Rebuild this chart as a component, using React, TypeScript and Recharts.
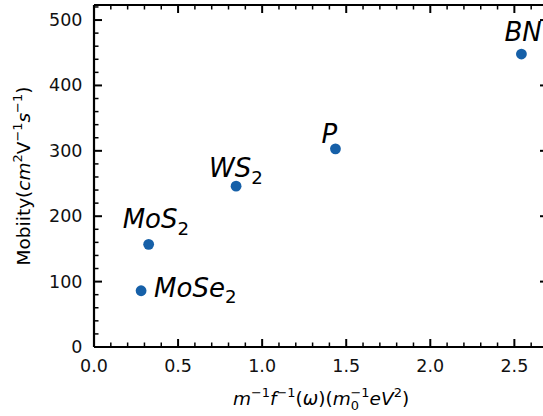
import React from 'react';
import { ScatterChart, Scatter, XAxis, YAxis, Label, ReferenceLine } from 'recharts';

// values
const materials = ['MoSe2', 'MoS2', 'WS2', 'P', 'BN'];
const xValues = [0.28, 0.325, 0.845, 1.436, 2.542];
const mobility = [86, 157, 246, 303, 448];

const X_MAJOR = [0, 0.5, 1.0, 1.5, 2.0, 2.5];
const X_MINOR = [0.1, 0.2, 0.3, 0.4, 0.6, 0.7, 0.8, 0.9, 1.1, 1.2, 1.3, 1.4, 1.6, 1.7, 1.8, 1.9, 2.1, 2.2, 2.3, 2.4, 2.6];
const Y_MAJOR = [0, 100, 200, 300, 400, 500];
const Y_MINOR = [20, 40, 60, 80, 120, 140, 160, 180, 220, 240, 260, 280, 320, 340, 360, 380, 420, 440, 460, 480, 520];

const X_DOMAIN = [0, 2.7];
const Y_DOMAIN = [0, 523];

const DOT = '#1660a8';
const FONT = 'DejaVu Sans, Verdana, sans-serif';
const THIN = 0.01; // axes take no room, margins hold the labels
const GAP = 2; // recharts' default tickMargin

// label text pieces: [text, italic, position, dx]
type Seg = [string, boolean, 'base' | 'sup' | 'sub', number?];

const LABEL_TEXT: Record<string, Seg[]> = {
  MoSe2: [['MoSe', true, 'base'], ['2', false, 'sub']],
  MoS2: [['MoS', true, 'base'], ['2', false, 'sub']],
  WS2: [['WS', true, 'base'], ['2', false, 'sub']],
  P: [['P', true, 'base']],
  BN: [['BN', true, 'base']],
};

// where the annotation sits relative to its point (text start, baseline)
const LABEL_OFFSET: Record<string, [number, number]> = {
  MoSe2: [13, 6],
  MoS2: [-26, -16],
  WS2: [-27, -9],
  P: [-14, -6],
  BN: [-17, -13],
};

const X_TITLE: Seg[] = [
  ['m', true, 'base'], ['−1', false, 'sup'], ['f', true, 'base'], ['−1', false, 'sup'],
  ['(', false, 'base'], ['ω', true, 'base'], [')(', false, 'base'], ['m', true, 'base'],
  ['0', false, 'sub'], ['−1', false, 'sup', -8.5], ['e', true, 'base'], ['V', true, 'base'],
  ['2', false, 'sup'], [')', false, 'base'],
];

const Y_TITLE: Seg[] = [
  ['Mobiity(', false, 'base'], ['cm', true, 'base'], ['2', false, 'sup'], ['V', false, 'base'],
  ['−1', false, 'sup'], ['s', true, 'base'], ['−1', false, 'sup'], [')', false, 'base'],
];

function renderSegs(segs: Seg[], size: number) {
  let cur = 0;
  return segs.map(([t, italic, pos, dx], i) => {
    const target = pos === 'sup' ? -0.42 * size : pos === 'sub' ? 0.25 * size : 0;
    const dy = target - cur;
    cur = target;
    return (
      <tspan
        key={i}
        dy={dy}
        dx={dx}
        fontSize={pos === 'base' ? size : size * 0.7}
        fontStyle={italic ? 'italic' : 'normal'}
      >
        {t}
      </tspan>
    );
  });
}

const points = materials.map((name, i) => ({ name, x: xValues[i], y: mobility[i] }));

const PointShape = (props: any) => {
  const { cx, cy, payload } = props;
  const [dx, dy] = LABEL_OFFSET[payload.name];
  return (
    <g>
      <circle cx={cx} cy={cy} r={5.4} fill={DOT} />
      <text x={cx + dx} y={cy + dy} fontFamily={FONT} fill="#000" textAnchor="start">
        {renderSegs(LABEL_TEXT[payload.name], 26)}
      </text>
    </g>
  );
};

const XTitle = (props: any) => {
  const { x, y, width } = props.viewBox;
  return (
    <text x={x + width / 2} y={y + 58} textAnchor="middle" fontFamily={FONT} fill="#000">
      {renderSegs(X_TITLE, 18.5)}
    </text>
  );
};

const YTitle = (props: any) => {
  const { x, y, height } = props.viewBox;
  const cx = x - 64;
  const cy = y + height / 2;
  return (
    <text x={cx} y={cy} textAnchor="middle" fontFamily={FONT} fill="#000" transform={`rotate(-90, ${cx}, ${cy})`}>
      {renderSegs(Y_TITLE, 18.5)}
    </text>
  );
};

// tick numbers only; the marks themselves come from the reference lines below
const BottomLabel = (props: any) => {
  const v = props.payload?.value;
  if (!X_MAJOR.includes(v)) return <g />;
  return (
    <text x={props.x} y={Number(props.y) - GAP + 25} textAnchor="middle" fontFamily={FONT} fontSize={17.5} fill="#111">
      {v.toFixed(1)}
    </text>
  );
};

const LeftLabel = (props: any) => {
  const v = props.payload?.value;
  if (!Y_MAJOR.includes(v)) return <g />;
  return (
    <text x={Number(props.x) + GAP - 11.5} y={Number(props.y) + 6} textAnchor="end" fontFamily={FONT} fontSize={17.5} fill="#111">
      {String(v)}
    </text>
  );
};

// inward ticks like matplotlib direction="in": only the two ends of each full-height line are drawn
const tickPair = (major: boolean, vertical: boolean) => (props: any) => {
  const len = major ? 8 : 4.5;
  const sw = major ? 2 : 1.5;
  const { x1, y1, x2, y2 } = props;
  if (vertical) {
    const top = Math.min(y1, y2);
    const bottom = Math.max(y1, y2);
    return (
      <g>
        <line x1={x1} x2={x1} y1={bottom} y2={bottom - len} stroke="#000" strokeWidth={sw} />
        <line x1={x1} x2={x1} y1={top} y2={top + len} stroke="#000" strokeWidth={sw} />
      </g>
    );
  }
  const left = Math.min(x1, x2);
  const right = Math.max(x1, x2);
  return (
    <g>
      <line x1={left} x2={left + len} y1={y1} y2={y1} stroke="#000" strokeWidth={sw} />
      <line x1={right} x2={right - len} y1={y1} y2={y1} stroke="#000" strokeWidth={sw} />
    </g>
  );
};

const XMajorTick = tickPair(true, true);
const XMinorTick = tickPair(false, true);
const YMajorTick = tickPair(true, false);
const YMinorTick = tickPair(false, false);

const spine = { stroke: '#000', strokeWidth: 2.2 };

export default function App() {
  return (
    <div style={{ position: 'fixed', left: 0, top: 0, width: 543, height: 416, overflow: 'hidden', background: '#fff' }}>
      <ScatterChart width={560} height={416} margin={{ top: 5, right: 12, bottom: 69, left: 94 }}>
        <XAxis type="number" xAxisId="x" dataKey="x" height={THIN}
          domain={X_DOMAIN} ticks={X_MAJOR} interval={0} tickSize={0} tickLine={false}
          tick={BottomLabel} axisLine={spine}>
          <Label content={<XTitle />} />
        </XAxis>
        <XAxis type="number" xAxisId="xt" dataKey="x" orientation="top" height={THIN}
          domain={X_DOMAIN} ticks={X_MAJOR} interval={0} tickSize={0} tickLine={false}
          tick={false} axisLine={spine} />
        <YAxis type="number" yAxisId="y" dataKey="y" width={THIN}
          domain={Y_DOMAIN} ticks={Y_MAJOR} interval={0} tickSize={0} tickLine={false}
          tick={LeftLabel} axisLine={spine}>
          <Label content={<YTitle />} />
        </YAxis>
        <YAxis type="number" yAxisId="yr" dataKey="y" orientation="right" width={THIN}
          domain={Y_DOMAIN} ticks={Y_MAJOR} interval={0} tickSize={0} tickLine={false}
          tick={false} axisLine={spine} />
        {X_MAJOR.map((v) => (
          <ReferenceLine key={`xM${v}`} x={v} xAxisId="x" yAxisId="y" ifOverflow="visible" shape={XMajorTick} />
        ))}
        {X_MINOR.map((v) => (
          <ReferenceLine key={`xm${v}`} x={v} xAxisId="x" yAxisId="y" ifOverflow="visible" shape={XMinorTick} />
        ))}
        {Y_MAJOR.map((v) => (
          <ReferenceLine key={`yM${v}`} y={v} xAxisId="x" yAxisId="y" ifOverflow="visible" shape={YMajorTick} />
        ))}
        {Y_MINOR.map((v) => (
          <ReferenceLine key={`ym${v}`} y={v} xAxisId="x" yAxisId="y" ifOverflow="visible" shape={YMinorTick} />
        ))}
        <Scatter data={points} xAxisId="xt" yAxisId="yr" shape={() => <g />} isAnimationActive={false} />
        <Scatter data={points} xAxisId="x" yAxisId="y" shape={<PointShape />} isAnimationActive={false} />
      </ScatterChart>
    </div>
  );
}
